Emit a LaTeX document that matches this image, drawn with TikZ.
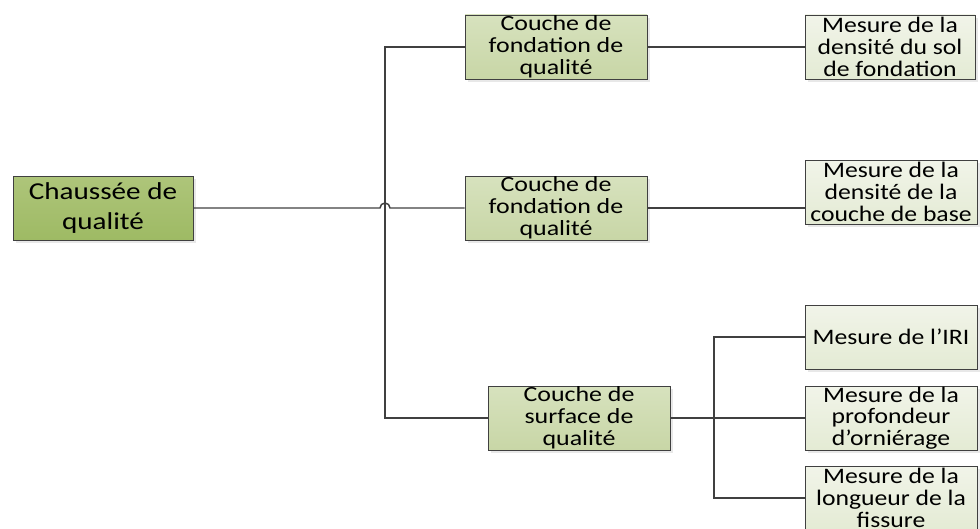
\documentclass[tikz,border=0pt]{standalone}
\usepackage{fontspec}
\setmainfont{Carlito}
\newfontfamily\policeracine[FakeStretch=1.2]{Carlito}
\newfontfamily\policecouche[FakeStretch=1.2]{Carlito}
\newfontfamily\policemesure[FakeStretch=1.16]{Carlito}
\usetikzlibrary{shadows}
\definecolor{trait}{RGB}{64,64,64}
\definecolor{vertfonce}{RGB}{174,197,122}
\definecolor{vertfonceb}{RGB}{158,186,100}
\definecolor{vertmoyen}{RGB}{215,226,190}
\definecolor{vertmoyenb}{RGB}{200,214,166}
\definecolor{vertclair}{RGB}{241,244,233}
\definecolor{vertclairb}{RGB}{228,235,212}
\tikzset{
  boite/.style={draw=trait, line width=0.7pt, align=center, inner xsep=1pt,
    inner ysep=-1pt, minimum height=48pt,
    drop shadow={shadow xshift=2pt, shadow yshift=-2pt, fill=black!18}},
  racine/.style={boite, top color=vertfonce, bottom color=vertfonceb,
    minimum width=135pt, font=\policeracine\fontsize{18.2}{22.5}\selectfont},
  couche/.style={boite, top color=vertmoyen, bottom color=vertmoyenb,
    minimum width=136.5pt, font=\policecouche\fontsize{16.2}{16.6}\selectfont},
  mesure/.style={boite, top color=vertclair, bottom color=vertclairb,
    minimum width=129pt, font=\policemesure\fontsize{16.6}{16.3}\selectfont},
  lien/.style={draw=trait, line width=1.1pt}
}
\begin{document}
\begin{tikzpicture}[x=0.75pt,y=0.75pt]
\useasboundingbox (0,0) rectangle (980,-528);

\coordinate (ch) at (103,-208);
\coordinate (fd) at (556,-47);
\coordinate (bs) at (556,-208);
\coordinate (sf) at (579,-418);
\coordinate (sl) at (890,-47);
\coordinate (dn) at (891,-192);
\coordinate (ir) at (891,-337);
\coordinate (or) at (891,-418);
\coordinate (fi) at (891,-498);

\node[racine] (chaussee) at (ch){Chaussée de\\qualité};
\node[couche] (fond) at (fd){Couche de\\fondation de\\qualité};
\node[couche] (base) at (bs){Couche de\\fondation de\\qualité};
\node[couche] (surf) at (sf){Couche de\\surface de\\qualité};
\node[mesure, minimum width=127.5pt] (sol) at (sl){Mesure de la\\densité du sol\\de fondation};
\node[mesure] (dens) at (dn){Mesure de la\\densité de la\\couche de base};
\node[mesure] (iri) at (ir){Mesure de l’IRI};
\node[mesure] (orn) at (or){Mesure de la\\profondeur\\d’orniérage};
\node[mesure] (fiss) at (fi){Mesure de la\\longueur de la\\fissure};

\coordinate (hopA) at (380,-208);
\coordinate (jA) at (385,-47);
\coordinate (jC) at (385,-418);
\coordinate (jI) at (714,-337);
\coordinate (jF) at (714,-498);

% tronc principal
\draw[lien] (chaussee.east) -- (hopA) arc[start angle=180,end angle=0,radius=5] -- (base.west);
\draw[lien] (fond.west) -- (jA) -- (jC) -- (surf.west);

% mesures
\draw[lien] (fond.east) -- (sol.west);
\draw[lien] (base.east) -- (base.east -| dens.west);
\draw[lien] (surf.east) -- (orn.west);
\draw[lien] (iri.west) -- (jI) -- (jF) -- (fiss.west);

\end{tikzpicture}
\end{document}
